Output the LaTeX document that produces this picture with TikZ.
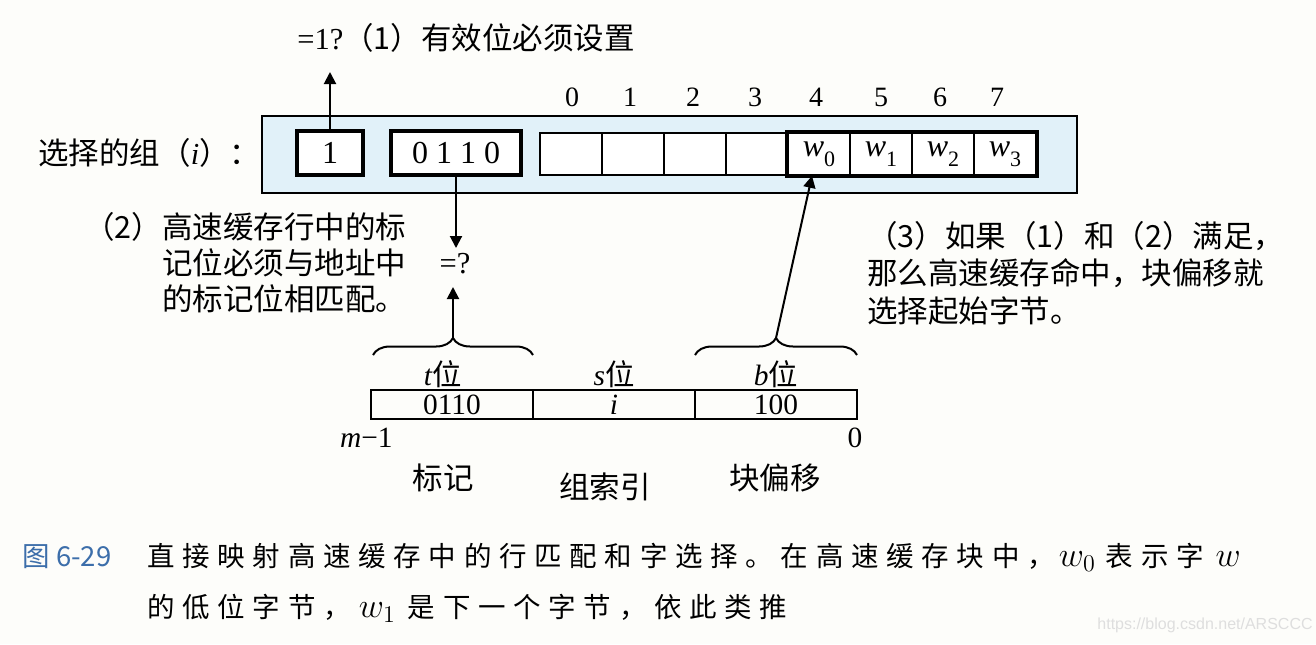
\documentclass[tikz,border=0pt]{standalone}
\usepackage{fontspec}
\setmainfont{Liberation Serif}
\newfontfamily\cjk{Noto Sans CJK SC}
\newfontfamily\capfont[LetterSpace=28]{Noto Sans CJK SC}
\newfontfamily\wmfont{Liberation Sans}
\usetikzlibrary{arrows.meta,decorations.pathreplacing,calc,fit}
\definecolor{bgc}{RGB}{253,253,250}
\definecolor{boxblue}{RGB}{225,241,249}
\definecolor{capblue}{RGB}{60,110,170}
\definecolor{wmc}{RGB}{222,222,222}
\newcommand\dsz{\fontsize{15.25}{18}\selectfont}
\newcommand\wsub[1]{\textit{w}\raisebox{-0.3em}{\fontsize{11}{12}\selectfont #1}}
\newcommand\capmath[1]{{\fontsize{17.5}{18}\selectfont$#1$}}
\begin{document}
\begin{tikzpicture}[x=0.5pt,y=-0.5pt,
  every node/.style={inner sep=0pt},
  txt/.style={font=\dsz},
  bigbox/.style={draw, line width=1pt, fill=boxblue},
  thickbox/.style={draw, line width=1.8pt, fill=white, font=\fontsize{16}{18}\selectfont},
  cell/.style={draw, line width=0.8pt, fill=white, minimum width=31pt, minimum height=21pt, font=\fontsize{16}{18}\selectfont},
  num/.style={font=\fontsize{14}{16}\selectfont},
  arr/.style={line width=1pt, -{Triangle[length=6pt,width=6pt]}},
  bracestyle/.style={decorate, decoration={brace, amplitude=8.5pt}, line width=1pt},
  field/.style={draw, line width=0.8pt, minimum width=81pt, minimum height=14.5pt, font=\fontsize{14.7}{16}\selectfont},
  lbl/.style={font=\fontsize{14.7}{16}\selectfont},
  captxt/.style={font={\fontsize{13.75}{16}\selectfont\capfont}}]
\useasboundingbox (0,0) rectangle (1316,644);
\fill[bgc] (0,0) rectangle (1316,644);

% selected set
\node[bigbox, minimum width=407.5pt, minimum height=38.5pt] (set) at (669.5,154.5) {};
\node[thickbox, minimum width=33pt, minimum height=22pt] (valid) at (330,153) {1};
\node[thickbox, minimum width=65pt, minimum height=22pt] (tag) at (456,153) {0 1 1 0};
\node[cell] (c0) at (571,154) {};
\node[cell] (c1) at (633,154) {};
\node[cell] (c2) at (695,154) {};
\node[cell] (c3) at (757,154) {};
\node[cell] (c4) at (819,154) {\wsub{0}};
\node[cell] (c5) at (881,154) {\wsub{1}};
\node[cell] (c6) at (943,154) {\wsub{2}};
\node[cell] (c7) at (1005,154) {\wsub{3}};
\node[draw, line width=1.8pt, fit=(c4)(c7), inner sep=0pt] (wg) {};
\foreach \x/\n in {572/0,630/1,693/2,755/3,816/4,881/5,940/6,997/7}
  \node[num] (n\n) at (\x,97) {\n};

\node[txt, anchor=west] (sel) at (38,153) {{\cjk 选择的组（}\textit{i}{\cjk ）：}};

% valid bit
\coordinate (vtip) at (330,72);
\draw[arr] (valid) -- (vtip);
\node[txt, anchor=west] (q1) at (297,38) {=1?{\cjk （1）有效位必须设置}};

% tag compare
\coordinate (tagdown) at (456,248);
\draw[arr] (tag) -- (tagdown);
\node[txt] (eq) at (455,264) {=?};
\node[txt, anchor=west, align=left, font={\dsz\cjk\baselineskip=18pt}] (t2) at (162,263)
  {\llap{（2）}高速缓存行中的标\\记位必须与地址中\\的标记位相匹配。};

% address
\node[field] (a1) at (452,404.5) {0110};
\node[field] (a2) at (614,404.5) {\textit{i}};
\node[field] (a3) at (776,404.5) {100};
\node[lbl] (tl) at (443,374) {\textit{t}{\cjk 位}};
\node[lbl] (sl) at (614,374) {\textit{s}{\cjk 位}};
\node[lbl] (bl) at (776,374) {\textit{b}{\cjk 位}};
\node[lbl, anchor=east] (m1) at (393,438) {\textit{m}−1};
\node[lbl] (z0) at (855,438) {0};
\node[txt] (lb1) at (443,478) {\cjk 标记};
\node[txt] (lb2) at (605,487) {\cjk 组索引};
\node[txt] (lb3) at (775,478) {\cjk 块偏移};

% braces and arrows
\draw[bracestyle] (373,355) -- (533,355);
\draw[bracestyle] (695,355) -- (857,355);
\coordinate (tbr) at (453,338);
\coordinate (tup) at (453,287);
\draw[arr] (tbr) -- (tup);
\coordinate (bbr) at (776,338);
\draw[arr] (bbr) -- ($(c4.south)+(-7,0)$);

\node[txt, anchor=west, align=left, font={\dsz\cjk\baselineskip=18.75pt}] (t3) at (867,273)
  {（3）如果（1）和（2）满足，\\那么高速缓存命中，块偏移就\\选择起始字节。};

% caption
\node[anchor=west, text=capblue, font={\fontsize{13.75}{16}\selectfont\cjk}] (fig) at (22,557) {图 6-29};
\node[anchor=west, captxt] (cap1) at (147,557)
  {直接映射高速缓存中的行匹配和字选择。在高速缓存块中，\hspace{2pt}\capmath{w_0}\hspace{5pt}表示字\hspace{6pt}\capmath{w}};
\node[anchor=west, captxt] (cap2) at (147,608)
  {的低位字节，\hspace{4pt}\capmath{w_1}\hspace{6pt}是下一个字节，依此类推};
\node[anchor=east, text=wmc, font={\fontsize{8}{9}\selectfont\wmfont}] (wmk) at (1313,625) {https://blog.csdn.net/ARSCCC};
\end{tikzpicture}
\end{document}
